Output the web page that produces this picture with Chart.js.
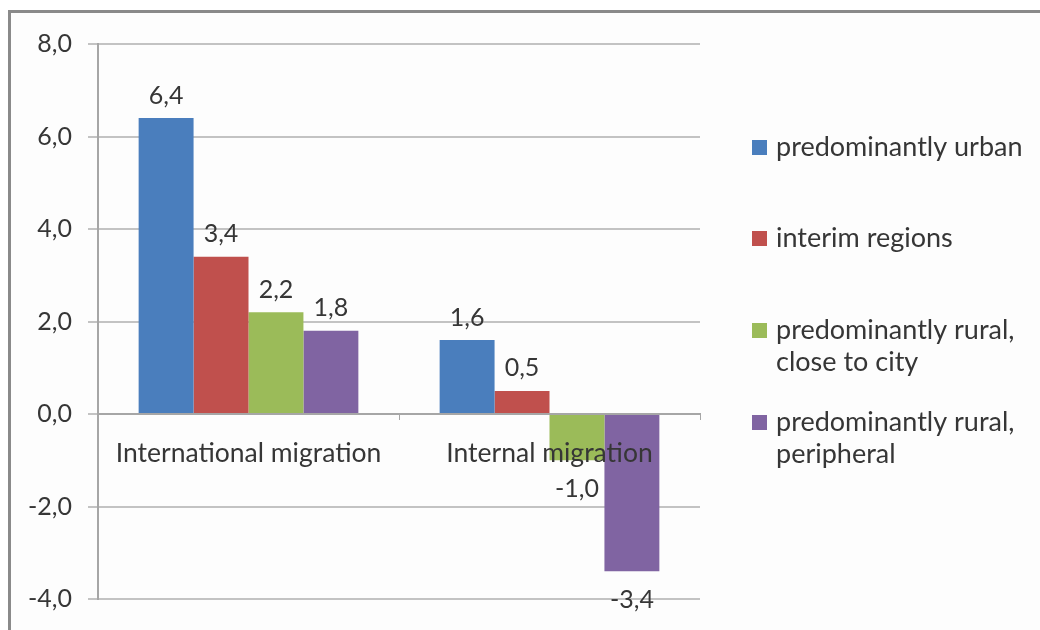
<!DOCTYPE html>
<html>
<head>
<meta charset="utf-8">
<script src="https://cdn.jsdelivr.net/npm/chart.js@4/dist/chart.umd.min.js"></script>
<style>
  body { margin: 0; background: #fff; }
  #frame {
    position: absolute; left: 8px; top: 10px; width: 1100px; height: 700px;
    border-top: 3px solid #8a8a8a; border-left: 3px solid #8a8a8a;
    background: #fdfdfd;
  }
  #wrap { position: absolute; left: 0; top: 0; width: 1040px; height: 630px; }
</style>
</head>
<body>
<div id="frame"></div>
<div id="wrap"><canvas id="chart" width="1040" height="630"></canvas></div>
<script>
// chart data
const categories = ["International migration", "Internal migration"]
const seriesNames = [
    ["predominantly urban"],
    ["interim regions"],
    ["predominantly rural,", "close to city"],
    ["predominantly rural,", "peripheral"]
]
const urban = [6.4, 1.6]
const interim = [3.4, 0.5]
const ruralClose = [2.2, -1.0]
const ruralPeripheral = [1.8, -3.4]
const yTicks = [-4, -2, 0, 2, 4, 6, 8]

const colors = ["#4a7ebd", "#c0504d", "#9bbb59", "#8064a2"]
const FONT = "Lato, 'Open Sans', sans-serif"
const TEXT = "#363636"

function fmt(v){
    return v.toFixed(1).replace(".", ",")
}

// value labels above / below bars
const valueLabels = {
    id: "valueLabels",
    afterDatasetsDraw(chart){
        const ctx = chart.ctx
        ctx.save()
        ctx.font = "25px " + FONT
        ctx.fillStyle = TEXT
        ctx.textAlign = "center"
        chart.data.datasets.forEach(function(ds, i){
            const meta = chart.getDatasetMeta(i)
            meta.data.forEach(function(bar, j){
                const v = ds.data[j]
                if(v >= 0){
                    ctx.textBaseline = "bottom"
                    ctx.fillText(fmt(v), bar.x, bar.y - 10)
                }
                else{
                    ctx.textBaseline = "top"
                    ctx.fillText(fmt(v), bar.x, bar.y + 16)
                }
            })
        })
        ctx.restore()
    }
}

// legend drawn on the right with wrapped lines
const sideLegend = {
    id: "sideLegend",
    afterDraw(chart){
        const ctx = chart.ctx
        const rows = [147, 238, 330, 422]
        ctx.save()
        ctx.font = "27px " + FONT
        ctx.textBaseline = "middle"
        ctx.textAlign = "left"
        seriesNames.forEach(function(lines, i){
            const y = rows[i]
            ctx.fillStyle = colors[i]
            ctx.fillRect(752, y - 7, 15, 15)
            ctx.fillStyle = TEXT
            lines.forEach(function(line, k){
                ctx.fillText(line, 776, y + k * 32)
            })
        })
        ctx.restore()
    }
}

const chart_data = {
    labels: categories,
    datasets: [urban, interim, ruralClose, ruralPeripheral].map(function(d, i){
        return {
            label: seriesNames[i].join(" "),
            data: d,
            backgroundColor: colors[i],
            categoryPercentage: 0.73,
            barPercentage: 1.0
        }
    })
}

new Chart(document.getElementById("chart"), {
    type: "bar",
    data: chart_data,
    plugins: [valueLabels, sideLegend],
    options: {
        responsive: false,
        animation: false,
        devicePixelRatio: 1,
        layout: {
            padding: { left: 0, top: 44, right: 340, bottom: 28 }
        },
        plugins: {
            legend: { display: false },
            tooltip: { enabled: false }
        },
        scales: {
            x: {
                position: { y: 0 },
                grid: {
                    offset: true,
                    drawOnChartArea: false,
                    tickLength: 5,
                    color: "#a6a6a6"
                },
                border: { color: "#a6a6a6", width: 2 },
                ticks: {
                    z: 1,
                    color: TEXT,
                    font: { size: 26.5, family: FONT },
                    padding: 19,
                    maxRotation: 0
                }
            },
            y: {
                min: -4,
                max: 8,
                afterFit: function(scale){ scale.width = 98 },
                afterBuildTicks: function(scale){
                    scale.ticks = yTicks.map(function(v){ return { value: v } })
                },
                grid: {
                    color: "#c3c3c3",
                    lineWidth: 2,
                    tickLength: 10
                },
                border: { color: "#a6a6a6", width: 2 },
                ticks: {
                    color: TEXT,
                    font: { size: 25, family: FONT },
                    padding: 16,
                    callback: function(v){ return fmt(v) }
                }
            }
        }
    }
})
</script>
</body>
</html>
